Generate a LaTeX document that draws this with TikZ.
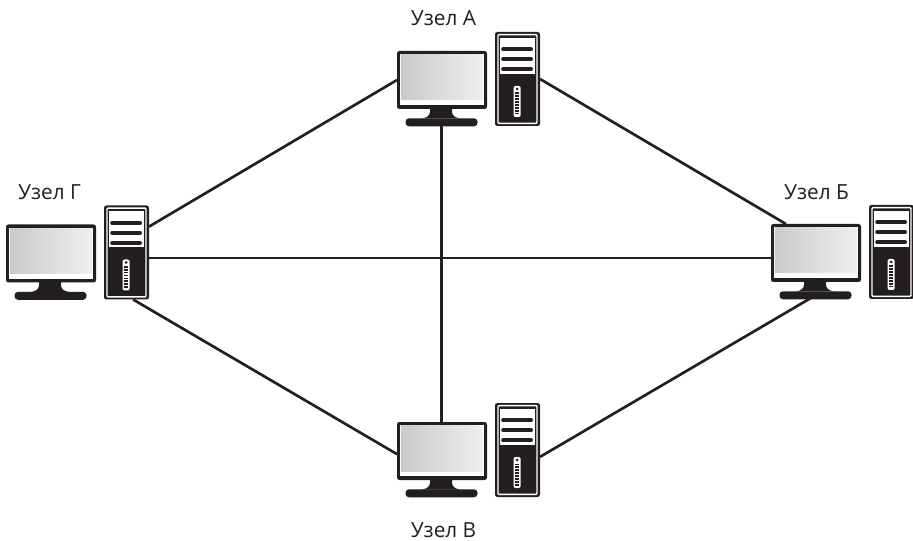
\documentclass[tikz,border=0pt]{standalone}
\usepackage{fontspec}
\setmainfont{Open Sans}
\definecolor{ink}{HTML}{231F20}
\definecolor{scrL}{HTML}{C9CACC}
\definecolor{scrM}{HTML}{DCDDDE}
\definecolor{scrR}{HTML}{EEEFF0}
\tikzset{
  px/.style={x=0.75pt,y=-0.75pt},
  link/.style={draw=ink,line width=2pt},
  lbl/.style={font=\fontsize{15.6pt}{18pt}\selectfont,text=ink,inner sep=0pt,anchor=base},
  frame/.style={fill=ink,draw=none,rounded corners=1.8pt,inner sep=0pt,outer sep=0pt},
  bar/.style={draw=ink,line width=3pt,line cap=round},
  pics/computer/.style={code={
    \node[frame,minimum width=67.5pt,minimum height=43.5pt] (-mon) at (45,29) {};
    \fill[white] (3.4,3.4) rectangle (86.6,54.2);
    \fill[left color=scrL,right color=scrR,middle color=scrM] (3.8,3.8) rectangle (86.2,49);
    \fill[ink] (33,57) -- (55,57) -- (55,61) .. controls (55.5,65) and (58,66.5) .. (63,67.5) -- (25,67.5) .. controls (30,66.5) and (32.5,65) .. (33,61) -- cycle;
    \node[frame,minimum width=54pt,minimum height=6pt,rounded corners=2.6pt] (-base) at (44.5,71.3) {};
    \node[frame,minimum width=33.75pt,minimum height=70.5pt] (-tower) at (120.5,28) {};
    \draw[white,line width=1.1pt,rounded corners=0.8pt] (101,-16.4) rectangle (140,72.4);
    \fill[white] (103.2,-13) rectangle (137.8,23);
    \draw[bar] (106.2,-1.7) -- (134,-1.7);
    \draw[bar] (106.2,8.2) -- (134,8.2);
    \draw[bar] (106.2,18.3) -- (134,18.3);
    \fill[white,rounded corners=1.5pt] (116.6,35) rectangle (123.6,66);
    \fill[ink] (120.1,38) circle[radius=1.4];
    \foreach \yy in {41.5,44.4,...,64} {\fill[ink] (118.2,\yy) rectangle (122,\yy+1.7);}
  }}
}
\begin{document}
\begin{tikzpicture}[px]
\useasboundingbox (0,0) rectangle (913,541);
\pic (A) at (397,51) {computer};
\pic (G) at (6,224.5) {computer};
\pic (B) at (771,224) {computer};
\pic (C) at (397,422) {computer};
\coordinate (hline) at (0,258);
\draw[link] (A-mon.west) -- (G-tower.49);
\draw[link] (A-tower.east) -- (B-mon.136);
\draw[link] (A-base.south) -- (A-base.south |- C-mon.north);
\draw[link] (G-tower.east |- hline) -- (B-mon.west |- hline);
\draw[link] (G-tower.278) -- (C-mon.184);
\draw[link] (C-tower.343) -- (B-base.center);
\node[lbl] (la) at (443.5,25.5) {Узел А};
\node[lbl] (lg) at (49.5,200) {Узел  Г};
\node[lbl] (lb) at (816.5,200) {Узел Б};
\node[lbl] (lc) at (443.5,537.5) {Узел В};
\end{tikzpicture}
\end{document}
